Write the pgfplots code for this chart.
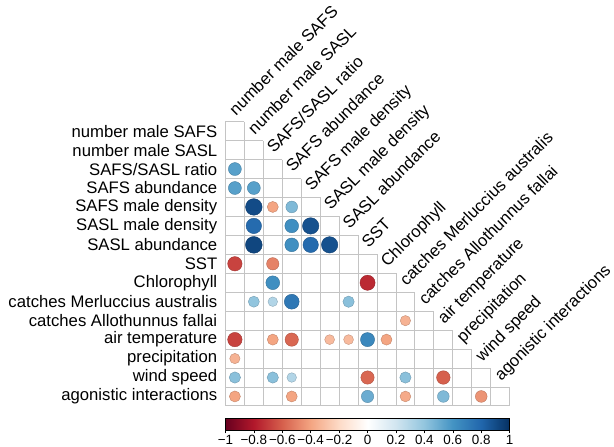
\documentclass[border=0pt]{standalone}
\usepackage{pgfplots}
\pgfplotsset{compat=1.18}
\usepackage{pgfplotstable}
\usepackage{fontspec}
\setmainfont{Liberation Sans}
\definecolor{gridc}{RGB}{196,196,196}

% i = row (from top), j = column (from left), r = correlation
\pgfplotstableread{
i j r
2 0 0.55
3 0 0.55
3 1 0.55
4 1 0.90
4 2 -0.40
4 3 0.45
5 1 0.78
5 3 0.62
5 4 0.88
6 1 0.92
6 3 0.62
6 4 0.78
6 5 0.88
7 0 -0.68
7 2 -0.50
8 2 0.62
8 7 -0.75
9 1 0.40
9 2 0.30
9 3 0.72
9 6 0.42
10 9 -0.35
11 0 -0.68
11 2 -0.40
11 3 -0.58
11 5 -0.32
11 6 -0.32
11 7 0.65
11 8 -0.40
12 0 -0.35
13 0 0.42
13 2 0.42
13 3 0.30
13 7 -0.58
13 9 0.42
13 11 -0.60
14 0 -0.40
14 3 -0.40
14 7 0.50
14 9 -0.38
14 11 0.45
14 13 -0.45
}\corr

\newcommand{\labfont}{\fontsize{16.8}{19}\selectfont}
\tikzset{toplab/.style={rotate=45, anchor=base west, inner sep=0pt, font=\labfont}}

\begin{document}
\begin{tikzpicture}
\begin{axis}[
  scale only axis, width=285bp, height=285bp,
  xmin=0, xmax=15, ymin=0, ymax=15, y dir=reverse,
  axis line style={draw=none}, xtick=\empty,
  ytick={0.5,1.5,2.5,3.5,4.5,5.5,6.5,7.5,8.5,9.5,10.5,11.5,12.5,13.5,14.5},
  yticklabels={number male SAFS, number male SASL, SAFS/SASL ratio, SAFS abundance,
    SAFS male density, SASL male density, SASL abundance, SST, Chlorophyll,
    catches Merluccius australis, catches Allothunnus fallai, air temperature,
    precipitation, wind speed, agonistic interactions},
  ytick style={draw=none}, major tick length=0pt,
  yticklabel style={font=\labfont, inner sep=0pt, xshift=-8bp},
  clip=false,
  colormap={RdBu}{rgb255=(103,0,31) rgb255=(178,24,43) rgb255=(214,96,77)
    rgb255=(244,165,130) rgb255=(253,219,199) rgb255=(255,255,255)
    rgb255=(209,229,240) rgb255=(146,197,222) rgb255=(67,147,195)
    rgb255=(33,102,172) rgb255=(5,48,97)},
  point meta min=-1, point meta max=1,
  colorbar horizontal,
  colorbar style={
    at={(parent axis.south west)}, anchor=north west, yshift=-4bp,
    scale only axis, width=285bp, height=12bp,
    xtick={-1,-0.8,-0.6,-0.4,-0.2,0,0.2,0.4,0.6,0.8,1},
    xticklabels={−1,−0.8,−0.6,−0.4,−0.2,0,0.2,0.4,0.6,0.8,1},
    xticklabel style={font=\fontsize{13.5}{15}\selectfont, inner sep=1.5bp},
    xtick pos=left, xtick align=outside, major tick length=3bp,
    axis line style={black, line width=0.6bp},
    xtick style={black, line width=0.5bp},
  },
]
\coordinate (O) at (axis cs:0,0);
% grid (lower triangle incl. diagonal)
\draw[gridc, line width=0.9bp] (axis cs:0,0) -- (axis cs:0,15);
\draw[gridc, line width=0.9bp] (axis cs:0,15) -- (axis cs:15,15);
\pgfplotsinvokeforeach{0,...,14}{
  \draw[gridc, line width=0.9bp] (axis cs:0,#1) -- ([xshift=19bp]axis cs:#1,#1);
}
\pgfplotsinvokeforeach{1,...,15}{
  \draw[gridc, line width=0.9bp] ([yshift=19bp]axis cs:#1,#1) -- (axis cs:#1,15);
}
\addplot[scatter, only marks, mark=*, point meta=explicit,
  visualization depends on={8.8*sqrt(abs(\thisrow{r})) \as \rad},
  scatter/@pre marker code/.append style={/tikz/mark size=\rad}]
  table[x expr=\thisrow{j}+0.5, y expr=\thisrow{i}+0.5, meta=r] {\corr};
% column labels
\node[toplab] at ([xshift=1bp,yshift=5.5bp]axis cs:0.5,0) {number male SAFS};
\node[toplab] at ([xshift=1bp,yshift=5.5bp]axis cs:1.5,1) {number male SASL};
\node[toplab] at ([xshift=1bp,yshift=5.5bp]axis cs:2.5,2) {SAFS/SASL ratio};
\node[toplab] at ([xshift=1bp,yshift=5.5bp]axis cs:3.5,3) {SAFS abundance};
\node[toplab] at ([xshift=1bp,yshift=5.5bp]axis cs:4.5,4) {SAFS male density};
\node[toplab] at ([xshift=1bp,yshift=5.5bp]axis cs:5.5,5) {SASL male density};
\node[toplab] at ([xshift=1bp,yshift=5.5bp]axis cs:6.5,6) {SASL abundance};
\node[toplab] at ([xshift=1bp,yshift=5.5bp]axis cs:7.5,7) {SST};
\node[toplab] at ([xshift=1bp,yshift=5.5bp]axis cs:8.5,8) {Chlorophyll};
\node[toplab] at ([xshift=1bp,yshift=5.5bp]axis cs:9.5,9) {catches Merluccius australis};
\node[toplab] at ([xshift=1bp,yshift=5.5bp]axis cs:10.5,10) {catches Allothunnus fallai};
\node[toplab] at ([xshift=1bp,yshift=5.5bp]axis cs:11.5,11) {air temperature};
\node[toplab] at ([xshift=1bp,yshift=5.5bp]axis cs:12.5,12) {precipitation};
\node[toplab] at ([xshift=1bp,yshift=5.5bp]axis cs:13.5,13) {wind speed};
\node[toplab] at ([xshift=1bp,yshift=5.5bp]axis cs:14.5,14) {agonistic interactions};
\end{axis}
\path ([xshift=-226bp,yshift=122bp]O) rectangle ([xshift=388bp,yshift=-322bp]O);
\end{tikzpicture}
\end{document}
